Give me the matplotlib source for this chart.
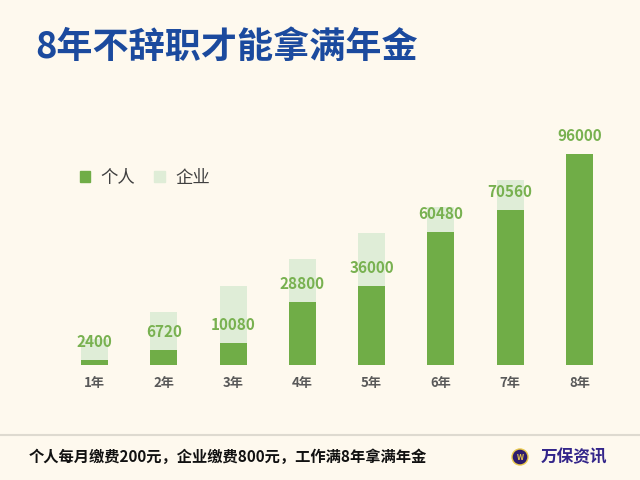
import matplotlib
matplotlib.use("Agg")
import matplotlib.pyplot as plt
from matplotlib.patches import Patch, Ellipse
from matplotlib.lines import Line2D

plt.rcParams['font.family'] = ['Noto Sans CJK SC', 'DejaVu Sans']

# data
years = ["1年", "2年", "3年", "4年", "5年", "6年", "7年", "8年"]
personal = [2400, 6720, 10080, 28800, 36000, 60480, 70560, 96000]   # vested amount
company = [12000, 24000, 36000, 48000, 60000, 72000, 84000, 96000]  # total paid in

title = "8年不辞职才能拿满年金"
footer = "个人每月缴费200元，企业缴费800元，工作满8年拿满年金"
brand = "万保资讯"

BG = "#FEF9EE"
GREEN = "#70AD47"
LIGHT = "#DFEDD7"
W, H = 640, 480

fig = plt.figure(figsize=(6.4, 4.8), dpi=100, facecolor=BG)
ax = fig.add_axes([60 / W, 1 - 365 / H, 554 / W, 264 / H])
ax.set_facecolor(BG)

x = range(len(years))
ax.bar(x, company, width=0.39, color=LIGHT, zorder=1)
ax.bar(x, personal, width=0.39, color=GREEN, zorder=2)

for xi, v in zip(x, personal):
    ax.annotate(f"{v}", (xi, v), xytext=(0, 13), textcoords="offset points",
                ha="center", va="center", fontsize=11, fontweight="bold",
                color="#78B150", zorder=3)

ax.set_xlim(-0.5, len(years) - 0.5)
ax.set_ylim(0, 120000)
ax.set_xticks(list(x))
ax.set_xticklabels(years, fontsize=9.5, fontweight="bold", color="#595959")
ax.tick_params(axis="x", length=0, pad=8)
ax.set_yticks([])
for s in ax.spines.values():
    s.set_visible(False)

handles = [Patch(color=GREEN, label="个人"), Patch(color=LIGHT, label="企业")]
fig.legend(handles=handles, loc="center left", bbox_to_anchor=(64 / W, 1 - 178 / H),
           ncol=2, frameon=False, fontsize=12.5, handlelength=0.6, handleheight=0.6,
           handletextpad=0.6, columnspacing=1.1, labelcolor="#404040")

fig.text(35 / W, 1 - 47 / H, title, fontsize=26, fontweight="bold",
         color="#1B4A9E", ha="left", va="center")

fig.add_artist(Line2D([0, 1], [1 - 435 / H, 1 - 435 / H], color="#DEDAD0", lw=1.5,
                      transform=fig.transFigure))
fig.text(29 / W, 1 - 457 / H, footer, fontsize=11, fontweight="bold",
         color="#111111", ha="left", va="center")

fig.add_artist(Ellipse((520 / W, 1 - 457 / H), 16 / W, 16 / H, transform=fig.transFigure,
                       facecolor="#2D1C6E", edgecolor="#E9C84A", lw=1))
fig.text(520 / W, 1 - 457 / H, "W", fontsize=5.5, fontweight="bold", color="#E9C84A",
         ha="center", va="center")
fig.text(541 / W, 1 - 457 / H, brand, fontsize=12, fontweight="bold",
         color="#33258A", ha="left", va="center")

fig.savefig("out.png", dpi=100, facecolor=BG)
